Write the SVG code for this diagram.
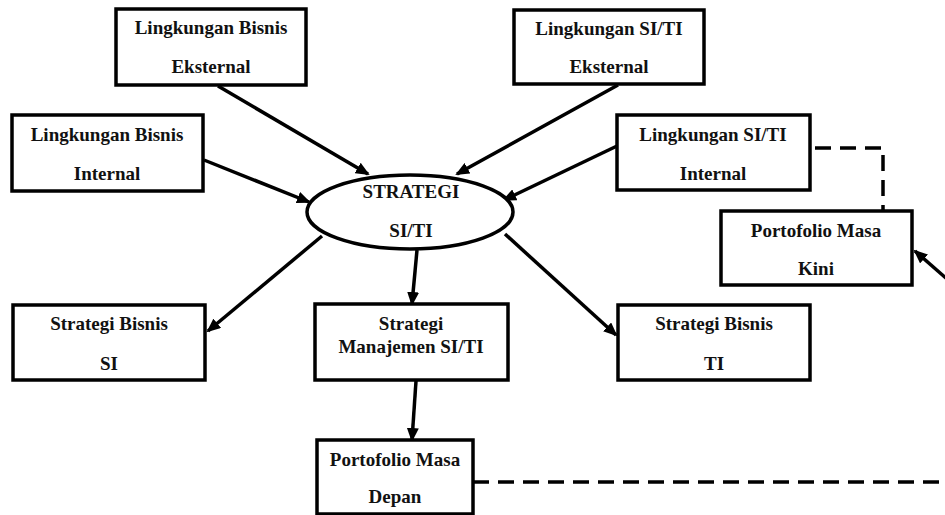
<svg xmlns="http://www.w3.org/2000/svg" width="945" height="515" viewBox="0 0 945 515">
<style>
.box{fill:#fff;stroke:#000;stroke-width:3.5}
.t{font-family:'Liberation Serif','DejaVu Serif',serif;font-weight:bold;font-size:19px;fill:#111;text-anchor:middle}
.ln{stroke:#000;stroke-width:3.5;fill:none}
.ar{marker-end:url(#ah)}
.dash{stroke:#000;stroke-width:3.5;fill:none;stroke-dasharray:16 9}
</style>
<defs>
<marker id="ah" markerUnits="userSpaceOnUse" markerWidth="14" markerHeight="12" refX="12" refY="6" orient="auto">
<path d="M0,0 L14,6 L0,12 z" fill="#000"/>
</marker>
</defs>
<rect width="945" height="515" fill="#fff"/>
<g id="connectors">
<line class="ln ar" x1="218" y1="86" x2="368" y2="174"/>
<line class="ln ar" x1="204" y1="160" x2="309" y2="202"/>
<line class="ln ar" x1="618" y1="85" x2="457" y2="174"/>
<line class="ln ar" x1="617" y1="146" x2="504" y2="200"/>
<line class="ln ar" x1="322" y1="236" x2="208" y2="331"/>
<line class="ln ar" x1="417" y1="250" x2="412" y2="304"/>
<line class="ln ar" x1="505" y1="234" x2="616" y2="335"/>
<line class="ln ar" x1="416" y1="381" x2="412" y2="440"/>
<line class="ln ar" x1="947" y1="279" x2="915" y2="251"/>
<path class="dash" d="M473,482 H945"/>
<path class="dash" d="M815,148 H883 V210"/>
</g>
<g id="lbe">
<rect class="box" x="116" y="9" width="190" height="76"/>
<text class="t" x="211" y="34">Lingkungan Bisnis</text>
<text class="t" x="211" y="73">Eksternal</text>
</g>
<g id="lbi">
<rect class="box" x="12" y="115" width="191" height="76"/>
<text class="t" x="107" y="141">Lingkungan Bisnis</text>
<text class="t" x="107" y="180">Internal</text>
</g>
<g id="lse">
<rect class="box" x="514" y="10" width="190" height="74"/>
<text class="t" x="609" y="35">Lingkungan SI/TI</text>
<text class="t" x="609" y="73">Eksternal</text>
</g>
<g id="lsi">
<rect class="box" x="617" y="115" width="193" height="75"/>
<text class="t" x="713" y="141">Lingkungan SI/TI</text>
<text class="t" x="713" y="180">Internal</text>
</g>
<g id="strategi">
<ellipse class="box" cx="410" cy="212" rx="103" ry="37"/>
<text class="t" x="411" y="198">STRATEGI</text>
<text class="t" x="411" y="237">SI/TI</text>
</g>
<g id="pmk">
<rect class="box" x="721" y="211" width="191" height="74"/>
<text class="t" x="816" y="237">Portofolio Masa</text>
<text class="t" x="816" y="275">Kini</text>
</g>
<g id="sbsi">
<rect class="box" x="13" y="305" width="192" height="75"/>
<text class="t" x="109" y="330">Strategi Bisnis</text>
<text class="t" x="109" y="370">SI</text>
</g>
<g id="smsi">
<rect class="box" x="315" y="304" width="193" height="76"/>
<text class="t" x="411" y="330">Strategi</text>
<text class="t" x="411" y="353">Manajemen SI/TI</text>
</g>
<g id="sbti">
<rect class="box" x="618" y="305" width="192" height="75"/>
<text class="t" x="714" y="330">Strategi Bisnis</text>
<text class="t" x="714" y="370">TI</text>
</g>
<g id="pmd">
<rect class="box" x="317" y="440" width="156" height="74"/>
<text class="t" x="395" y="466">Portofolio Masa</text>
<text class="t" x="395" y="503">Depan</text>
</g>
</svg>
